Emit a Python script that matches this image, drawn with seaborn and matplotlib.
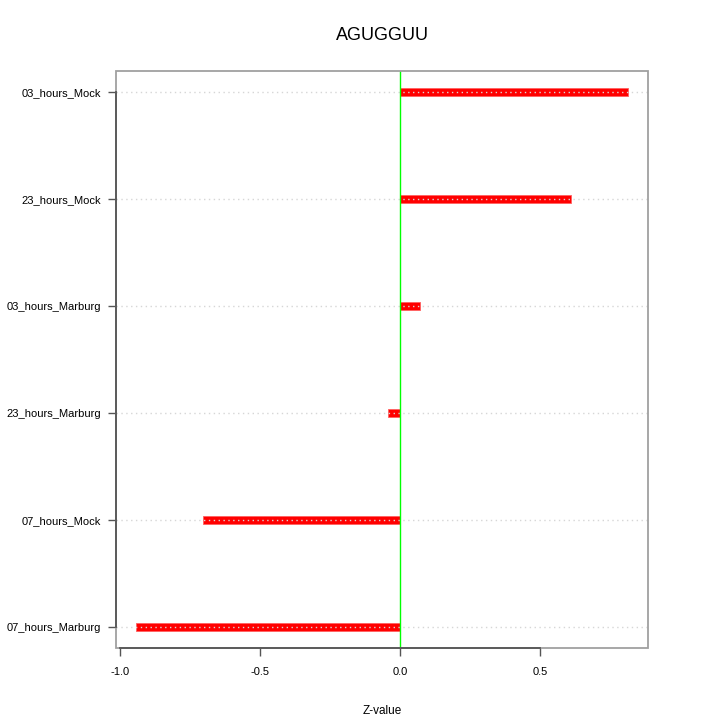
import matplotlib
matplotlib.use("Agg")
import matplotlib.pyplot as plt
import matplotlib.patches as mpatches
import pandas as pd
import seaborn as sns

# values, top row first
conditions = ["03_hours_Mock", "23_hours_Mock", "03_hours_Marburg",
              "23_hours_Marburg", "07_hours_Mock", "07_hours_Marburg"]
z_values = [0.814, 0.611, 0.071, -0.043, -0.704, -0.943]
x_ticks = [-1.0, -0.5, 0.0, 0.5]
x_tick_labels = ["-1.0", "-0.5", "0.0", "0.5"]

df = pd.DataFrame({"condition": conditions, "z": z_values})

sns.set_style("white")
plt.rcParams["font.family"] = ["Liberation Sans", "DejaVu Sans"]
plt.rcParams["text.color"] = "black"
plt.rcParams["axes.labelcolor"] = "black"
plt.rcParams["xtick.color"] = "black"
plt.rcParams["ytick.color"] = "black"

fig = plt.figure(figsize=(7.2, 7.2), dpi=100)
ax = fig.add_axes([116 / 720, 72 / 720, 532 / 720, 577 / 720])

sns.barplot(data=df, x="z", y="condition", order=conditions, orient="h",
            color="red", saturation=1, width=0.075, edgecolor="#ff6060",
            linewidth=0.6, ax=ax, zorder=2)

ax.axvline(0, color="#00ff00", linewidth=1, zorder=4)

# dotted guide lines across each row, drawn over the bars
ax.grid(False)
for i in range(len(conditions)):
    ax.axhline(i, color="#d6d6d6", linestyle=(0, (1, 2.5)), linewidth=1.0,
               zorder=3)

ax.set_xlim(-1.0143, 0.8857)
ax.set_ylim(5.2, -0.2)
ax.set_xticks(x_ticks)
ax.set_xticklabels(x_tick_labels)
ax.tick_params(axis="both", direction="out", length=6, width=1,
               color="#555555", labelsize=8, left=True, bottom=True)
ax.tick_params(axis="x", pad=8)
ax.tick_params(axis="y", pad=5)

# R-like box: grey frame with dark axis lines spanning the ticks
for s in ["top", "right", "left", "bottom"]:
    ax.spines[s].set_visible(False)
box = mpatches.Rectangle((0, 0), 1, 1, transform=ax.transAxes, fill=False,
                         edgecolor="#a0a0a0", linewidth=1.3, clip_on=False,
                         zorder=5)
ax.add_patch(box)
ax.spines["bottom"].set_visible(True)
ax.spines["bottom"].set_bounds(-1.0, 0.5)
ax.spines["bottom"].set_color("#555555")
ax.spines["left"].set_visible(True)
ax.spines["left"].set_bounds(0, 5)
ax.spines["left"].set_color("#555555")
for s in ["bottom", "left"]:
    ax.spines[s].set_linewidth(1.3)
    ax.spines[s].set_zorder(6)

ax.set_ylabel("")
ax.set_xlabel("Z-value", fontsize=8.5, labelpad=20, color="black")
fig.text(382 / 720, 1 - 35 / 720, "AGUGGUU", ha="center", va="center",
         fontsize=13, color="black")

fig.savefig("out.png", dpi=100)
